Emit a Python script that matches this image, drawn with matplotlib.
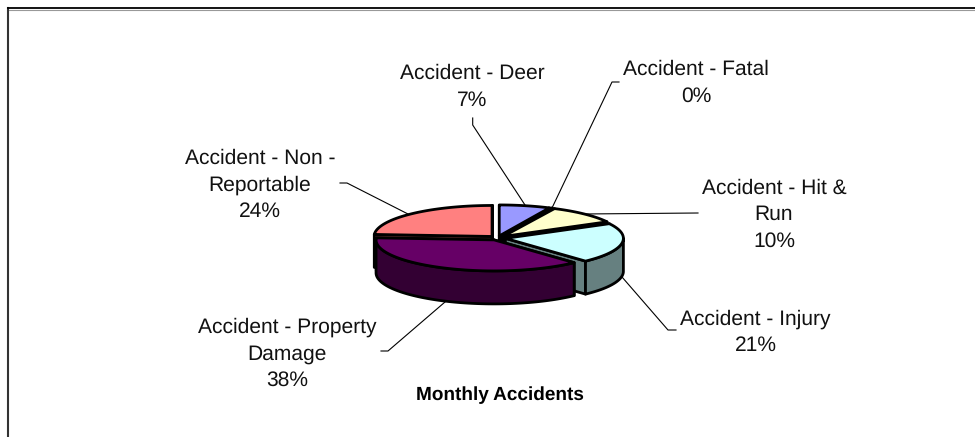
import numpy as np
import matplotlib
matplotlib.use("Agg")
import matplotlib.pyplot as plt
from matplotlib.patches import Polygon

plt.rcParams['font.family'] = ['Liberation Sans', 'DejaVu Sans']
plt.rcParams['text.hinting'] = 'no_hinting'
plt.rcParams['text.hinting_factor'] = 1

labels = ["Accident - Deer", "Accident - Fatal", "Accident - Hit &\nRun", "Accident - Injury",
          "Accident - Property\nDamage", "Accident - Non -\nReportable"]
values = [7, 0.2, 10, 21, 38, 24]
percents = ["7%", "0%", "10%", "21%", "38%", "24%"]
top_colors = ["#9999FF", "#FFFFFF", "#FFFFCC", "#CCFFFF", "#660066", "#FF8080"]
side_colors = ["#4C4C80", "#808080", "#808066", "#668080", "#330033", "#804040"]

# label centre x and baseline of last line, then leader from the label in to the pie
label_pos = [(472.5, 106), (696, 102), (774, 247), (755.5, 351), (287, 386), (260, 217)]
leaders = [[(472.7, 118), (472.7, 125), (525, 205)],
           [(619, 82), (612, 82), (552, 208)],
           [(698, 213), (583, 214)],
           [(676, 330), (668, 330), (622, 277)],
           [(381, 351), (388, 351), (445, 302)],
           [(340, 183), (347, 183), (408, 214)]]

cx, cy = 497.5, 238
rx, ry = 118, 31
depth = 33
explode = 8


def wedge_outline(start, end, ox, oy):
    t = np.radians(np.linspace(start, end, 80))
    xs = cx + ox + rx * np.sin(t)
    ys = cy + oy - ry * np.cos(t)
    return xs, ys


fig = plt.figure(figsize=(9.75, 4.37), dpi=100)
ax = fig.add_axes([0, 0, 1, 1])
ax.set_xlim(0, 975)
ax.set_ylim(437, 0)
ax.axis("off")

edges = np.cumsum([0] + values) / sum(values) * 360
order = [5, 0, 1, 2, 3, 4]
for i in order:
    a, b = edges[i], edges[i + 1]
    mid = np.radians((a + b) / 2)
    ox, oy = explode * np.sin(mid), -explode * ry / rx * np.cos(mid)
    xs, ys = wedge_outline(a, b, ox, oy)
    tip = (cx + ox, cy + oy)
    # cut faces
    for px, py in [(xs[0], ys[0]), (xs[-1], ys[-1])]:
        face = [tip, (px, py), (px, py + depth), (tip[0], tip[1] + depth)]
        ax.add_patch(Polygon(face, closed=True, fc=side_colors[i], ec="black", lw=2, joinstyle="round"))
    # outer wall, only the front half of the pie shows it
    fa, fb = max(a, 90), min(b, 270)
    if fa < fb:
        wx, wy = wedge_outline(fa, fb, ox, oy)
        wall = np.r_[np.c_[wx, wy], np.c_[wx[::-1], wy[::-1] + depth]]
        ax.add_patch(Polygon(wall, closed=True, fc=side_colors[i], ec="black", lw=2, joinstyle="round"))
for i in order:
    a, b = edges[i], edges[i + 1]
    mid = np.radians((a + b) / 2)
    ox, oy = explode * np.sin(mid), -explode * ry / rx * np.cos(mid)
    xs, ys = wedge_outline(a, b, ox, oy)
    top = np.r_[[[cx + ox, cy + oy]], np.c_[xs, ys]]
    ax.add_patch(Polygon(top, closed=True, fc=top_colors[i], ec="black", lw=2, joinstyle="round"))

for pts in leaders:
    ax.plot(*zip(*pts), color="black", lw=0.8)

for lab, pct, (x, y) in zip(labels, percents, label_pos):
    ax.text(x, y, lab + "\n" + pct, ha="center", va="baseline", fontsize=15.2, linespacing=1.47, color="#111111")

ax.text(500, 400, "Monthly Accidents", ha="center", va="baseline", fontsize=13.8, fontweight="bold")

# frame of the chart area, open at the bottom and right
ax.plot([975, 8.5], [9.8, 9.8], color="#999999", lw=0.8)
ax.plot([8, 8], [437, 8], color="#333333", lw=1.5)
ax.plot([8, 975], [8.3, 8.3], color="black", lw=1.3)

fig.savefig("out.png", dpi=100)
